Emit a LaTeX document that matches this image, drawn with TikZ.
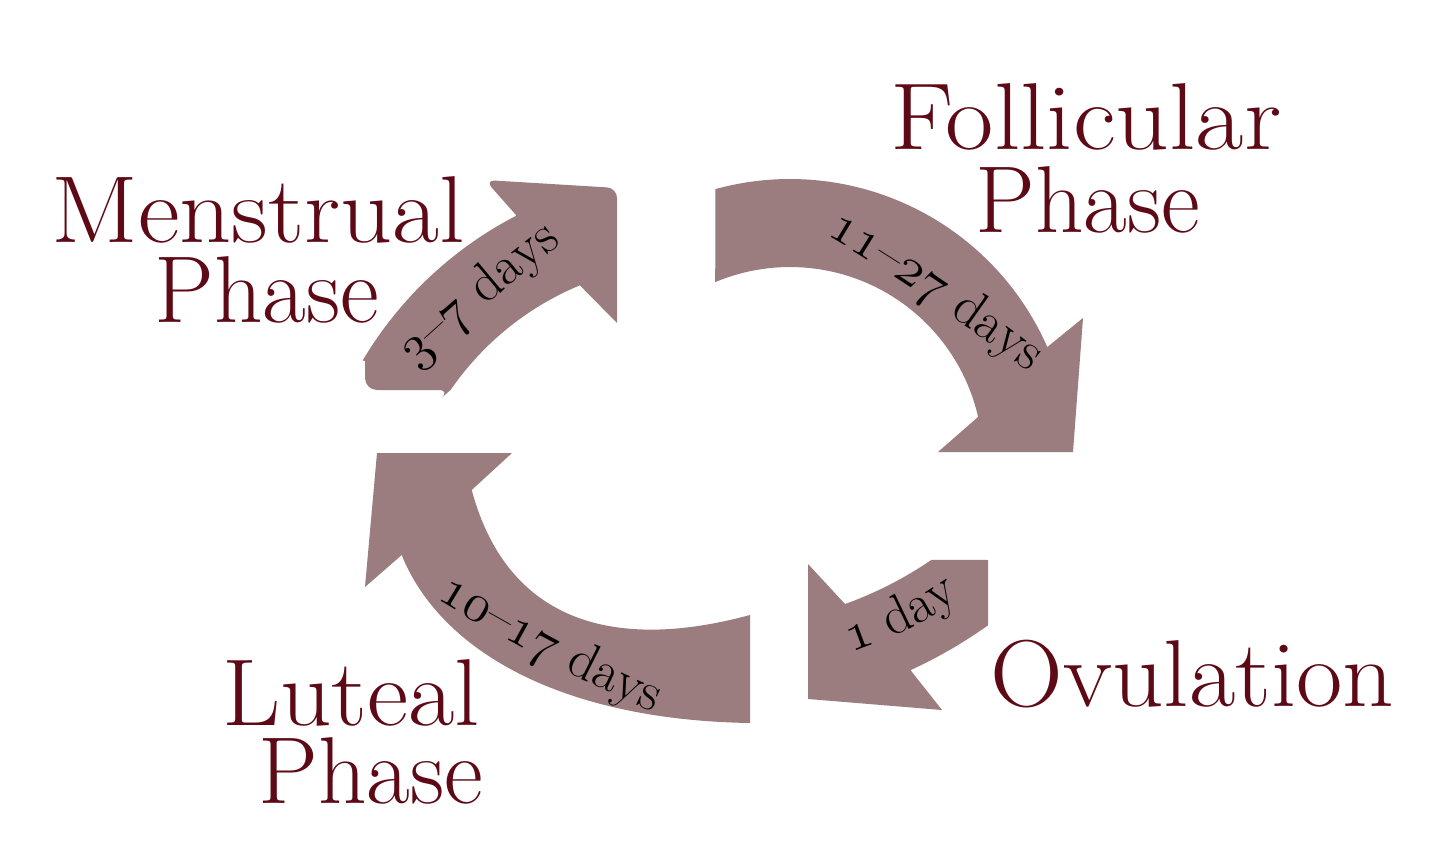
\RequirePackage{fix-cm}
\documentclass[tikz,border=0pt]{standalone}
\usepackage{graphicx}
\usetikzlibrary{decorations.text}
\definecolor{titlecol}{RGB}{94,10,22}
\definecolor{arrowcol}{RGB}{155,124,127}
\newcommand\titlefont{\fontsize{95}{80}\selectfont}
\newcommand\labfont{\fontsize{54}{60}\selectfont}
\newcommand\osd[1]{{\usefont{OML}{cmm}{m}{it}#1}}
\begin{document}
\begin{tikzpicture}[x=1pt,y=-1pt,
  phasetitle/.style={text=titlecol, font=\titlefont, inner sep=0pt, outer sep=0pt},
  arrowshape/.style={fill=arrowcol, draw=none},
  daylabel/.style={decorate, decoration={text along path, text align=center, text color=black}}]
\useasboundingbox[fill=white] (0,0) rectangle (1456,858);

% Menstrual arrow (top left)
\fill[arrowshape] (365,361)
  [rounded corners=12pt] -- (365,390) -- (450.6,390) [sharp corners]
  -- plot[domain=214.5:247.5,samples=30,variable=\t] ({692+293*cos(\t)},{556+293*sin(\t)})
  -- (617,323) -- (617,205) [rounded corners=10pt] -- (617,188) -- (485,180) [sharp corners]
  -- (516,215)
  -- plot[domain=242.7:210.7,samples=30,variable=\t] ({692+383*cos(\t)},{556+383*sin(\t)})
  -- cycle;

% Follicular arrow (top right)
\fill[arrowshape] plot[domain=254.6:336.3,samples=50,variable=\t] ({790+281*cos(\t)},{460+281*sin(\t)})
  -- (1083,318) -- (1073,452) -- (938,452) -- (978,417)
  -- plot[domain=347.1:247.2,samples=50,variable=\t] ({790+193*cos(\t)},{460+193*sin(\t)})
  -- cycle;

% Luteal arrow (bottom left)
\fill[arrowshape] (377,453) -- (512,453) -- (471.7,490)
  .. controls (505.5,616) and (606,654) .. (750,615)
  -- (750,723)
  .. controls (560,720) and (440,650) .. (401.7,555)
  -- (365,587) -- cycle;

% Ovulation arrow (bottom right)
\fill[arrowshape] (808,564) -- (845,604)
  -- plot[domain=70.2:55.7,samples=20,variable=\t] ({714+386*cos(\t)},{241+386*sin(\t)})
  -- (988,560) -- (988,625)
  -- plot[domain=54.5:65.4,samples=20,variable=\t] ({714+472*cos(\t)},{241+472*sin(\t)})
  -- (942,710) -- (808,699) -- cycle;

% day labels
\path[daylabel, decoration={text={|\labfont|{\osd{3}}{\textendash}{\osd{7}} days}}]
  (377,405) .. controls (447.5,334.2) and (523,270.6) .. (604,212);
\path[daylabel, decoration={text={|\labfont|{\osd{1}}{\osd{1}}{\textendash}{\osd{2}}{\osd{7}} days}}]
  (780,208) .. controls (882,265) and (979,331) .. (1070,405);
\path[daylabel, decoration={text={|\labfont|{\osd{1}}{\osd{0}}{\textendash}{\osd{1}}{\osd{7}} days}}]
  (396,573) .. controls (491.6,634.8) and (592,687.8) .. (697,732);
\path[daylabel, decoration={text={|\labfont|{\osd{1}} day}}]
  plot[domain=78:49,samples=40,variable=\t] ({714+434*cos(\t)},{241+434*sin(\t)});

% phase titles
\node[phasetitle, anchor=base] (menA) at (258.5,243) {\scalebox{1.074}[1]{Menstrual}};
\node[phasetitle, anchor=base] (menB) at (267,323) {Phase};
\node[phasetitle, anchor=base] (folA) at (1086,150) {\scalebox{1.107}[1]{Follicular}};
\node[phasetitle, anchor=base] (folB) at (1088,233) {Phase};
\node[phasetitle, anchor=base] (ovu) at (1192.5,706) {\scalebox{1.062}[1]{Ovulation}};
\node[phasetitle, anchor=base east] (lutA) at (480,725) {\scalebox{1.062}[1]{Luteal}};
\node[phasetitle, anchor=base east] (lutB) at (483,803) {Phase};
\end{tikzpicture}
\end{document}
